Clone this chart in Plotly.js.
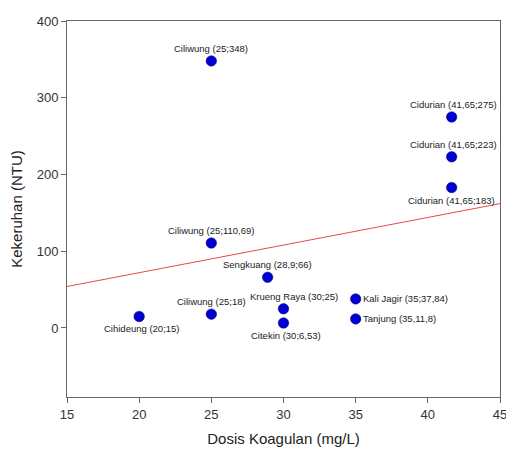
<!DOCTYPE html>
<html>
<head>
<meta charset="utf-8">
<script src="https://cdn.plot.ly/plotly-3.0.1.min.js"></script>
<style>html,body{margin:0;padding:0;background:#fff;}#chart{width:506px;height:460px;}</style>
</head>
<body>
<div id="chart"></div>
<script>
const dose = [25, 41.65, 41.65, 41.65, 25, 28.9, 20, 25, 30, 30, 35, 35];
const turbidity = [348, 275, 223, 183, 110.69, 66, 15, 18, 25, 6.53, 37.84, 11.8];
const pointLabels = [
  'Ciliwung (25;348)', 'Cidurian (41,65;275)', 'Cidurian (41,65;223)', 'Cidurian (41,65;183)',
  'Ciliwung (25;110,69)', 'Sengkuang (28,9;66)', 'Cihideung (20;15)', 'Ciliwung (25;18)',
  'Krueng Raya (30;25)', 'Citekin (30;6,53)', 'Kali Jagir (35;37,84)', 'Tanjung (35,11,8)'
];
const labelPos = ['top','top','top','bottom','top','top','bottom','top','top','bottom','right','right'];
const labelNudge = [0, 2, 2, 0, 0, 0, 3, 0, 10, 2, 0, 0];
const trendX = [15, 45];
const trendY = [54, 162];
const xTicks = [15, 20, 25, 30, 35, 40, 45];
const yTicks = [0, 100, 200, 300, 400];

const data = [
  {
    x: trendX, y: trendY, mode: 'lines', type: 'scatter',
    line: {color: '#e8474a', width: 1}, hoverinfo: 'skip'
  },
  {
    x: dose, y: turbidity, mode: 'markers', type: 'scatter',
    marker: {color: '#0000d0', size: 10.5, line: {color: '#000080', width: 0.5}},
    cliponaxis: false
  }
];

const annotations = dose.map((xv, i) => {
  const p = labelPos[i];
  const a = {
    x: xv, y: turbidity[i], text: pointLabels[i], showarrow: false,
    font: {family: 'Liberation Sans, Arial, sans-serif', size: 9.5, color: '#222'},
    xshift: labelNudge[i]
  };
  if (p === 'top') { a.xanchor = 'center'; a.yanchor = 'bottom'; a.yshift = 5; }
  else if (p === 'bottom') { a.xanchor = 'center'; a.yanchor = 'top'; a.yshift = -5; }
  else { a.xanchor = 'left'; a.yanchor = 'middle'; a.xshift = 5; }
  return a;
});

const layout = {
  width: 506, height: 460,
  margin: {l: 67, r: 6, t: 21, b: 63},
  showlegend: false,
  paper_bgcolor: '#fff', plot_bgcolor: '#fff',
  font: {family: 'Liberation Sans, Arial, sans-serif', color: '#333'},
  annotations: annotations,
  xaxis: {
    range: [15, 45], tickvals: xTicks, showgrid: false, zeroline: false,
    showline: true, linecolor: '#666', linewidth: 1, mirror: true,
    ticks: 'outside', ticklen: 5, tickcolor: '#666',
    tickfont: {size: 13, color: '#333'}, ticklabeloverflow: 'allow',
    title: {text: 'Dosis Koagulan (mg/L)', font: {size: 15, color: '#222'}, standoff: 12}
  },
  yaxis: {
    range: [-90, 400], tickvals: yTicks, showgrid: false, zeroline: false,
    showline: true, linecolor: '#666', linewidth: 1, mirror: true,
    ticks: 'outside', ticklen: 5, tickcolor: '#666',
    tickfont: {size: 13, color: '#333'},
    title: {text: 'Kekeruhan (NTU)', font: {size: 15, color: '#222'}, standoff: 10}
  }
};

Plotly.newPlot('chart', data, layout, {displayModeBar: false, staticPlot: true});
</script>
</body>
</html>
